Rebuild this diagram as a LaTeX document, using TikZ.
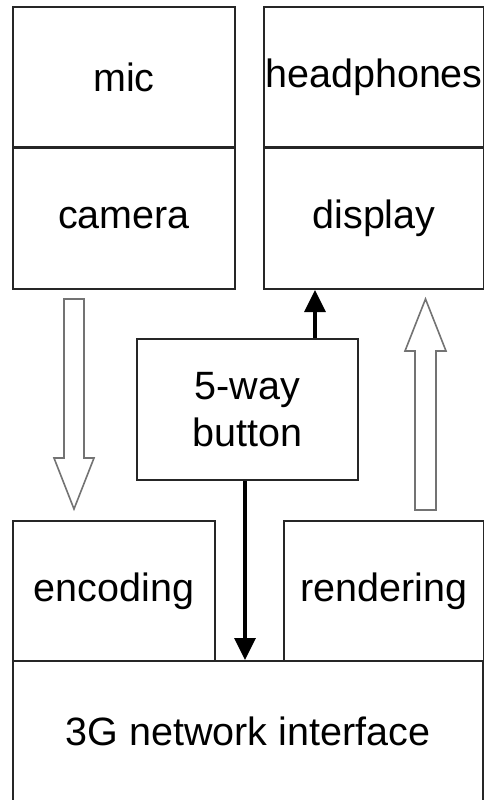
\documentclass[tikz,border=0pt]{standalone}
\usepackage{fontspec}
\setmainfont{Liberation Sans}
\usepackage{tikz}
\usetikzlibrary{calc,arrows.meta,positioning}

\begin{document}
\begin{tikzpicture}[x=1pt, y=-1pt,
    block/.style={draw=black!85, line width=2pt, inner sep=0pt, align=center,
      font=\fontsize{39.5}{47}\selectfont},
    solidarrow/.style={line width=3.5pt, -{Triangle[width=21pt,length=22pt]}},
    hollow/.style={draw=black!55, line width=1.6pt, fill=white, line join=miter}]
  \useasboundingbox (0,0) rectangle (484,800);

  % top row
  \node[block, minimum width=222, minimum height=140] (mic) at (124,77.5) {mic};
  \node[block, minimum width=222, minimum height=142] (camera) at (124,218) {camera};
  \node[block, minimum width=220, minimum height=140] (headphones) at (374,77.5) {headphones};
  \node[block, minimum width=220, minimum height=142] (display) at (374,218) {display};

  % middle
  \node[block, minimum width=221, minimum height=141] (button) at (247.5,409.5) {5-way\\button};

  % bottom row
  \node[block, minimum width=202, minimum height=140] (encoding) at (114,591) {encoding};
  \node[block, minimum width=200, minimum height=140] (rendering) at (384,591) {rendering};
  \node[block, minimum width=470, minimum height=141] (net) at (248,731.5) {3G network interface};

  % control arrows
  \coordinate (up) at (315,0);
  \coordinate (dn) at (245,0);
  \draw[solidarrow] (button.north -| up) -- (display.south -| up);
  \draw[solidarrow] (button.south -| dn) -- (net.north -| dn);

  % data flow arrows
  \draw[hollow] (64,299) -- (84,299) -- (84,458) -- (94,458) -- (74,509)
    -- (54,458) -- (64,458) -- cycle;
  \draw[hollow] (415,510) -- (436,510) -- (436,351) -- (446,351) -- (425.5,299)
    -- (405,351) -- (415,351) -- cycle;
\end{tikzpicture}
\end{document}
